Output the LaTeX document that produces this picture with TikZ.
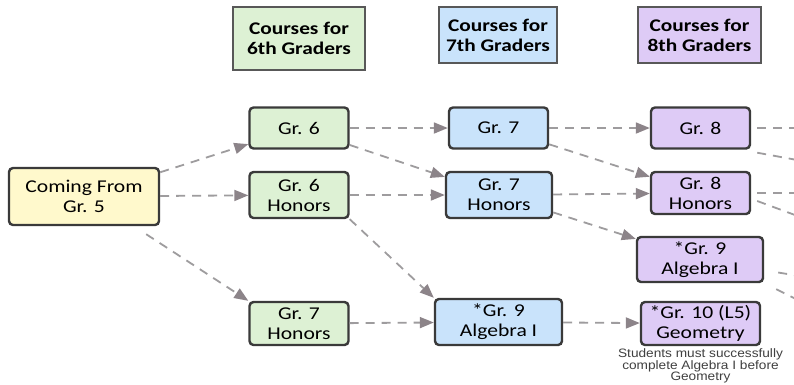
\documentclass[tikz,border=0pt]{standalone}
\usepackage{fontspec}
\setmainfont{Carlito}[FakeStretch=1.2]
\newfontfamily\notefont{Liberation Sans}[FakeStretch=1.12]
\usetikzlibrary{arrows.meta,positioning}

\definecolor{yellowc}{RGB}{255,249,204}
\definecolor{greenc}{RGB}{221,241,212}
\definecolor{bluec}{RGB}{201,227,251}
\definecolor{purplec}{RGB}{222,203,246}
\definecolor{edgec}{RGB}{58,58,58}
\definecolor{linkc}{RGB}{158,156,158}
\definecolor{tipc}{RGB}{140,132,137}

\begin{document}
\begin{tikzpicture}[x=1pt, y=-1pt,
    >={Triangle[length=14pt,width=11pt,color=tipc]},
    box/.style={draw=edgec, line width=2.4pt, rounded corners=4pt, align=center,
      inner sep=2pt, font=\fontsize{18}{20}\selectfont},
    hdr/.style={draw=edgec!85, line width=2.6pt, align=center, inner sep=2pt,
      font=\bfseries\fontsize{17.8}{20}\selectfont},
    link/.style={->, draw=linkc, line width=1.8pt, dash pattern=on 9pt off 7pt}]

  \useasboundingbox (0,0) rectangle (794,384);
  \fill[white] (0,0) rectangle (794,384);
  \clip (0,0) rectangle (794,384);

  % column headings
  \node[hdr, fill=greenc, minimum width=132pt, minimum height=63pt] (h6) at (299,38.5) {Courses for\\6th Graders};
  \node[hdr, fill=bluec, minimum width=118pt, minimum height=56pt] (h7) at (498,35) {Courses for\\7th Graders};
  \node[hdr, fill=purplec, minimum width=123pt, minimum height=56pt] (h8) at (699.5,35) {Courses for\\8th Graders};

  % courses
  \node[box, fill=yellowc, minimum width=150pt, minimum height=57pt] (from5) at (84,196.5) {Coming From\\Gr. 5};

  \node[box, fill=greenc, minimum width=99pt, minimum height=41pt] (g6) at (299,128) {Gr. 6};
  \node[box, fill=greenc, minimum width=99pt, minimum height=46pt] (g6h) at (299,195) {Gr. 6\\Honors};
  \node[box, fill=greenc, minimum width=99pt, minimum height=43pt] (g7hg) at (299,323.5) {Gr. 7\\Honors};

  \node[box, fill=bluec, minimum width=99pt, minimum height=41pt] (g7) at (498.5,128) {Gr. 7};
  \node[box, fill=bluec, minimum width=106pt, minimum height=46pt] (g7h) at (499,195) {Gr. 7\\Honors};
  \node[box, fill=bluec, minimum width=127pt, minimum height=46pt] (alg7) at (498.5,322) {*Gr. 9\\Algebra I};

  \node[box, fill=purplec, minimum width=99pt, minimum height=41pt] (g8) at (700.5,128) {Gr. 8};
  \node[box, fill=purplec, minimum width=99pt, minimum height=42pt] (g8h) at (700.5,193) {Gr. 8\\Honors};
  \node[box, fill=purplec, minimum width=126pt, minimum height=45pt] (alg8) at (700,259.5) {*Gr. 9\\Algebra I};
  \node[box, fill=purplec, minimum width=119pt, minimum height=43pt] (geo) at (700.5,323.5) {*Gr. 10 (L5)\\Geometry};

  \node[below=2.5pt of geo, align=center, inner sep=0pt, text=black!75,
    font=\notefont\fontsize{12.2}{11.6}\selectfont] (note) {Students must successfully\\complete Algebra I before\\Geometry};

  % paths between courses
  \draw[link] (from5) -- (g6);
  \draw[link] (from5) -- (g6h);
  \draw[link] ([xshift=-14pt,yshift=-8pt]from5.south east) -- (g7hg.north west);

  \draw[link] (g6) -- (g7);
  \draw[link] (g6) -- (g7h);
  \draw[link] (g6h) -- (g7h);
  \draw[link] (g6h.south east) -- (alg7.north west);
  \draw[link] (g7hg) -- (alg7);

  \draw[link] (g7) -- (g8);
  \draw[link] (g7) -- (g8h);
  \draw[link] (g7h) -- (g8h);
  \draw[link] (g7h) -- (alg8);
  \draw[link] (alg7) -- (geo);

  % on to the next column, off the page
  \coordinate (out1) at (830,128);
  \coordinate (out2) at (830,166);
  \coordinate (out3) at (830,193);
  \coordinate (out4) at (830,228);
  \coordinate (out5) at (830,281);
  \coordinate (out6) at (830,316);
  \draw[link, -] ([xshift=6pt]g8.east) -- (out1);
  \draw[link, -] ([xshift=6pt,yshift=-3pt]g8.south east) -- (out2);
  \draw[link, -] ([xshift=6pt]g8h.east) -- (out3);
  \draw[link, -] ([xshift=6pt,yshift=-8pt]g8h.east) -- (out4);
  \draw[link, -] ([xshift=14pt,yshift=-13pt]alg8.east) -- (out5);
  \draw[link, -] ([xshift=12pt,yshift=-6pt]alg8.south east) -- (out6);
\end{tikzpicture}
\end{document}
